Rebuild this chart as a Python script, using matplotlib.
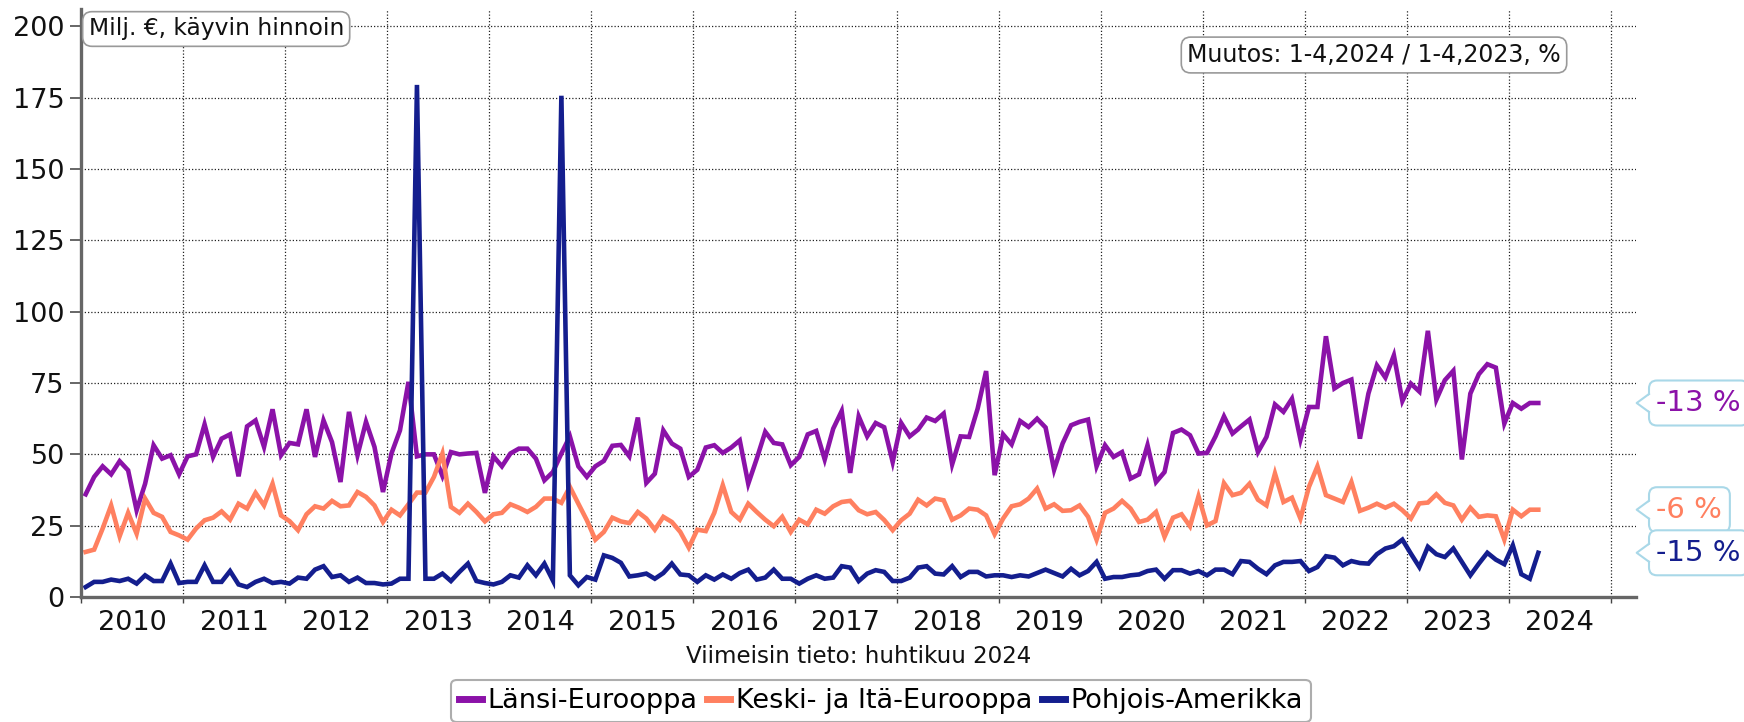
import numpy as np
import matplotlib
matplotlib.use("Agg")
import matplotlib.pyplot as plt
from matplotlib.patches import FancyBboxPatch, Polygon
from matplotlib.lines import Line2D
from matplotlib.transforms import IdentityTransform

# ---------------- data ----------------
start_year = 2010
years = [str(y) for y in range(2010, 2025)]
series_names = ["Länsi-Eurooppa", "Keski- ja Itä-Eurooppa", "Pohjois-Amerikka"]
change_labels = ["-13 %", "-6 %", "-15 %"]

lansi = [
    36.0, 42.1, 45.8, 43.0, 47.6, 44.4, 30.4, 39.7, 53.2, 48.5, 49.7, 43.0,
    49.3, 50.0, 60.5, 49.1, 55.5, 57.0, 42.3, 59.8, 61.9, 52.6, 65.8, 49.7,
    54.0, 53.5, 65.8, 49.1, 61.9, 54.3, 40.3, 64.9, 49.7, 61.4, 52.6, 36.8,
    50.3, 58.4, 75.4, 49.3, 50.0, 50.0, 42.4, 50.8, 50.0, 50.3, 50.5, 36.5,
    49.3, 45.8, 50.3, 52.0, 52.0, 48.5, 40.9, 43.8, 50.3, 56.3, 45.8, 42.1,
    45.8, 47.7, 53.0, 53.3, 49.3, 62.9, 40.0, 43.2, 58.4, 53.8, 52.0, 42.1,
    44.6, 52.4, 53.2, 50.5, 52.4, 54.9, 39.7, 48.5, 57.9, 54.0, 53.5, 46.2,
    49.1, 57.0, 58.2, 48.2, 59.0, 65.2, 43.5, 63.3, 56.3, 61.0, 59.5, 47.3,
    61.0, 56.3, 58.7, 62.9, 61.7, 64.3, 46.5, 56.3, 56.1, 66.0, 79.2, 42.7,
    57.0, 53.5, 61.7, 59.6, 62.5, 59.4, 44.6, 53.8, 60.2, 61.4, 62.2, 45.8,
    53.2, 49.1, 50.8, 41.5, 43.0, 53.2, 40.3, 43.8, 57.5, 58.7, 56.7, 50.3,
    50.5, 56.3, 63.3, 57.3, 59.8, 62.2, 50.8, 56.1, 67.5, 64.9, 69.5, 55.2,
    66.6, 66.6, 91.4, 73.1, 75.0, 76.2, 55.5, 71.3, 81.2, 76.9, 84.7, 68.7,
    74.8, 72.0, 93.3, 69.2, 76.0, 79.3, 48.2, 71.3, 78.1, 81.6, 80.4, 60.8,
    68.0, 66.0, 68.0, 68.0]

keski = [
    15.8, 16.6, 24.0, 32.1, 21.3, 29.5, 22.2, 34.5, 29.5, 28.1, 22.8, 21.6,
    20.1, 24.0, 26.9, 27.8, 30.0, 27.1, 32.7, 31.0, 36.5, 32.1, 39.7, 28.6,
    26.6, 23.4, 29.0, 31.8, 31.0, 33.7, 31.8, 32.1, 36.8, 35.1, 32.1, 26.3,
    30.6, 28.6, 32.5, 36.6, 36.6, 42.1, 50.3, 31.6, 29.5, 32.7, 29.8, 26.5,
    29.0, 29.5, 32.5, 31.3, 29.8, 31.6, 34.5, 34.5, 33.0, 38.6, 32.7, 26.9,
    20.1, 22.8, 27.8, 26.5, 25.9, 29.8, 27.5, 23.6, 28.1, 26.3, 22.8, 17.3,
    23.6, 23.1, 29.5, 39.2, 29.8, 27.1, 32.7, 29.8, 27.1, 24.8, 28.1, 22.8,
    27.1, 25.5, 30.6, 29.2, 31.8, 33.3, 33.7, 30.4, 29.0, 29.8, 27.0, 23.4,
    26.9, 29.2, 34.1, 32.1, 34.5, 33.9, 27.1, 28.6, 31.0, 30.6, 28.6, 22.0,
    27.5, 31.8, 32.5, 34.5, 38.0, 31.0, 32.5, 30.2, 30.4, 32.1, 28.1, 20.1,
    29.5, 31.0, 33.7, 31.0, 26.3, 27.1, 29.8, 21.1, 27.8, 29.0, 24.8, 35.3,
    25.1, 26.6, 39.9, 35.7, 36.5, 39.7, 34.1, 32.1, 43.3, 33.3, 34.8, 27.5,
    38.6, 45.8, 35.7, 34.5, 33.3, 40.3, 30.2, 31.3, 32.7, 31.3, 32.7, 30.4,
    27.5, 32.8, 33.1, 36.0, 33.0, 32.1, 27.1, 31.3, 28.1, 28.6, 28.3, 20.1,
    30.6, 28.3, 30.6, 30.6]

pohjois = [
    3.5, 5.3, 5.3, 6.1, 5.6, 6.4, 4.7, 7.6, 5.6, 5.6, 11.7, 4.9,
    5.3, 5.3, 11.1, 5.3, 5.3, 9.1, 4.4, 3.5, 5.3, 6.4, 4.9, 5.3,
    4.7, 6.8, 6.4, 9.6, 10.8, 7.0, 7.6, 5.3, 6.8, 4.9, 4.9, 4.4,
    4.7, 6.4, 6.4, 179.5, 6.4, 6.4, 8.2, 5.6, 8.8, 11.7, 5.6, 4.9,
    4.4, 5.3, 7.6, 6.8, 11.1, 7.6, 11.7, 5.8, 175.7, 7.6, 4.1, 7.0,
    6.1, 14.6, 13.7, 12.0, 7.2, 7.6, 8.2, 6.4, 8.4, 11.7, 7.9, 7.6,
    5.3, 7.6, 6.1, 7.9, 6.4, 8.4, 9.6, 6.1, 6.8, 9.6, 6.4, 6.4,
    4.7, 6.4, 7.6, 6.4, 6.8, 10.8, 10.3, 5.6, 8.2, 9.4, 8.8, 5.6,
    5.6, 6.8, 10.3, 10.8, 8.2, 7.9, 10.8, 7.0, 8.8, 8.8, 7.2, 7.6,
    7.6, 7.0, 7.6, 7.2, 8.4, 9.6, 8.4, 7.2, 9.9, 7.6, 9.1, 12.3,
    6.4, 7.0, 7.0, 7.6, 7.9, 9.1, 9.6, 6.4, 9.4, 9.4, 8.2, 9.1,
    7.6, 9.6, 9.6, 8.0, 12.6, 12.3, 9.9, 8.0, 11.1, 12.3, 12.3, 12.6,
    9.1, 10.5, 14.3, 13.8, 11.1, 12.6, 11.9, 11.7, 15.0, 17.0, 17.8, 20.1,
    15.2, 10.5, 17.6, 15.0, 14.0, 17.0, 12.3, 7.6, 11.7, 15.5, 13.1, 11.5,
    18.1, 8.0, 6.4, 15.5]

colors = ["#8B12A8", "#FF8060", "#141E8E"]
series = [lansi, keski, pohjois]

# ---------------- figure ----------------
W, H = 1744, 722
fig = plt.figure(figsize=(W / 100, H / 100), dpi=100)
ax = fig.add_axes([81.4 / W, 1 - 597 / H, (1636 - 81.4) / W, (597 - 9.3) / H])

n = len(lansi)
x = start_year + (np.arange(n) + 0.5) / 12.0

for vals, name, col in zip(series, series_names, colors):
    ax.plot(x, vals, color=col, lw=3.3, label=name, solid_joinstyle="miter")

ax.set_xlim(2010, 2025.25)
ax.set_ylim(0, 206)

ax.set_yticks(np.arange(0, 201, 25))
ax.set_xticks(np.arange(2010, 2026))
ax.set_xticklabels([])
ax.set_xticks(np.arange(2010, 2025) + 0.5, minor=True)
ax.set_xticklabels(years, minor=True)

ax.tick_params(axis="y", length=8, width=1.4, color="#666666", pad=4,
               labelsize=19.5, labelcolor="#111111")
ax.tick_params(axis="x", which="major", length=4, width=1.0, color="#444444")
ax.tick_params(axis="x", which="minor", length=0, pad=9, labelsize=19.5,
               labelcolor="#111111")

ax.grid(True, which="major", color="#222222", linestyle=(0, (1, 1.6)), lw=0.9)
ax.set_axisbelow(True)
for s in ["top", "right"]:
    ax.spines[s].set_visible(False)
for s in ["left", "bottom"]:
    ax.spines[s].set_color("#666666")
    ax.spines[s].set_linewidth(2.4)

ax.set_xlabel("Viimeisin tieto: huhtikuu 2024", fontsize=16.6, labelpad=7,
              color="#111111")

# unit annotation
fig.text(88.5 / W, 1 - 29 / H, "Milj. €, käyvin hinnoin", fontsize=16.8,
         ha="left", va="center", color="#111111",
         bbox=dict(boxstyle="round,pad=0.25,rounding_size=0.4", fc="white",
                   ec="#999999", lw=1.2))
fig.text(1374 / W, 1 - 55 / H, "Muutos: 1-4,2024 / 1-4,2023, %", fontsize=17,
         ha="center", va="center", color="#111111",
         bbox=dict(boxstyle="round,pad=0.25,rounding_size=0.4", fc="white",
                   ec="#999999", lw=1.2))

# change callouts
renderer = fig.canvas.get_renderer()
box_left = 1649.0
tip_x = 1636.7
box_h = 45.0
for vals, lab, col in zip(series, change_labels, colors):
    yd = ax.transData.transform((x[-1], vals[-1]))[1]
    t = fig.text(1656 / W, yd / H, lab, color=col, fontsize=21,
                 ha="left", va="center", zorder=5)
    ext = t.get_window_extent(renderer)
    bw = ext.x1 - box_left + 8
    box = FancyBboxPatch((box_left, yd - box_h / 2), bw, box_h,
                         boxstyle="round,pad=0,rounding_size=8",
                         transform=IdentityTransform(), fc="white",
                         ec="#A9D8E8", lw=1.5, zorder=2)
    fig.add_artist(box)
    fill = Polygon([[box_left + 2, yd + 9], [tip_x, yd], [box_left + 2, yd - 9]],
                   closed=True, transform=IdentityTransform(), fc="white",
                   ec="none", zorder=2.1)
    fig.add_artist(fill)
    edge = Line2D([box_left, tip_x, box_left], [yd + 9, yd, yd - 9],
                  transform=IdentityTransform(), color="#A9D8E8", lw=1.5,
                  zorder=2.2)
    fig.add_artist(edge)

# legend
leg = fig.legend(loc="upper center", bbox_to_anchor=(881 / W, 1 - 680 / H),
                 ncol=3, fontsize=19.5, frameon=True, fancybox=True,
                 edgecolor="#999999", handlelength=0.85, handletextpad=0.2,
                 columnspacing=0.35, borderpad=0.3, borderaxespad=0)
for h in leg.get_lines():
    h.set_linewidth(5)
leg.get_frame().set_linewidth(1.5)

fig.savefig("out.png", dpi=100)
